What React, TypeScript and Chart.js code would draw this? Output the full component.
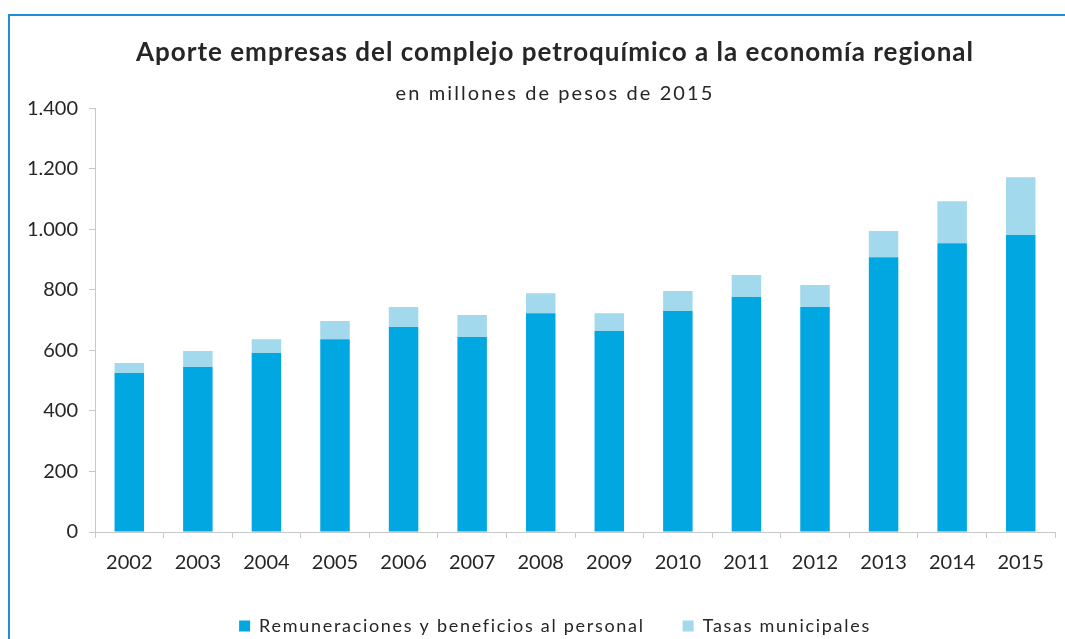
import React, { useEffect, useRef } from "react";
import { Chart, registerables } from "chart.js";

Chart.register(...registerables);

const years = ["2002", "2003", "2004", "2005", "2006", "2007", "2008", "2009", "2010", "2011", "2012", "2013", "2014", "2015"];
const remuneraciones = [525, 545, 591, 637, 677, 644, 723, 664, 730, 776, 743, 908, 954, 981];
const tasas = [33, 53, 46, 60, 66, 73, 66, 59, 66, 73, 73, 86, 139, 191];
const yTickValues = [0, 200, 400, 600, 800, 1000, 1200, 1400];
const yTickLabels = ["0", "200", "400", "600", "800", "1.000", "1.200", "1.400"];

const titleText = "Aporte empresas del complejo petroquímico a la economía regional";
const subtitleText = "en millones de pesos de 2015";
const seriesNames = ["Remuneraciones y beneficios al personal", "Tasas municipales"];

const FONT = "Lato, 'Open Sans', sans-serif";
const TEXT = "#262626";
const AXIS = "#c8c8c8";

function withSpacing(box: any, spacing: string) {
  if (!box) return;
  const ctx = box.ctx as any;
  ["draw", "fit"].forEach((name) => {
    const orig = box[name];
    box[name] = function (...args: any[]) {
      const prev = ctx.letterSpacing;
      ctx.letterSpacing = spacing;
      try {
        return orig.apply(this, args);
      } finally {
        ctx.letterSpacing = prev;
      }
    };
  });
}

export default function App() {
  const ref = useRef<HTMLCanvasElement | null>(null);

  useEffect(() => {
    const canvas = ref.current;
    if (!canvas) return;
    const chart: any = new Chart(canvas, {
      type: "bar",
      data: {
        labels: years,
        datasets: [
          {
            label: seriesNames[0],
            data: remuneraciones,
            backgroundColor: "#00a7e1",
            barPercentage: 0.43,
            categoryPercentage: 1,
          },
          {
            label: seriesNames[1],
            data: tasas,
            backgroundColor: "#a2d9ec",
            barPercentage: 0.43,
            categoryPercentage: 1,
          },
        ],
      },
      options: {
        animation: false,
        responsive: false,
        devicePixelRatio: 1,
        layout: { padding: { left: 0, right: 0, top: 0, bottom: 9 } },
        plugins: {
          title: {
            display: true,
            text: titleText,
            color: TEXT,
            font: { family: FONT, size: 26, weight: "bold", lineHeight: 1.2 },
            padding: { top: 23, bottom: 8 },
          },
          subtitle: {
            display: true,
            text: subtitleText,
            color: TEXT,
            font: { family: FONT, size: 20, weight: "normal", lineHeight: 1.2 },
            padding: { top: 5, bottom: 3 },
          },
          legend: {
            position: "bottom",
            labels: {
              color: TEXT,
              font: { family: FONT, size: 18 },
              boxWidth: 11,
              boxHeight: 11,
              padding: 38,
            },
          },
          tooltip: { enabled: false },
        },
        scales: {
          x: {
            stacked: true,
            grid: {
              display: true,
              drawOnChartArea: false,
              drawTicks: true,
              tickLength: 6,
              color: AXIS,
              offset: true,
            },
            border: { color: AXIS, width: 1 },
            ticks: {
              color: TEXT,
              font: { family: FONT, size: 20 },
              padding: 13,
              maxRotation: 0,
            },
            afterFit: (scale: any) => {
              scale.height = 47;
            },
          },
          y: {
            stacked: true,
            min: 0,
            max: 1400,
            grid: {
              display: true,
              drawOnChartArea: false,
              drawTicks: true,
              tickLength: 6,
              color: AXIS,
            },
            border: { color: AXIS, width: 1 },
            afterBuildTicks: (scale: any) => {
              scale.ticks = yTickValues.map((v) => ({ value: v }));
            },
            ticks: {
              color: TEXT,
              font: { family: FONT, size: 20 },
              padding: 11,
              callback: (value: any) => {
                const i = yTickValues.indexOf(Number(value));
                return i >= 0 ? yTickLabels[i] : String(value);
              },
            },
            afterFit: (scale: any) => {
              scale.width = 87;
            },
          },
          yRight: {
            type: "linear",
            position: "right",
            display: true,
            grid: { display: false },
            border: { display: false },
            ticks: { display: false },
            afterFit: (scale: any) => {
              scale.width = 47;
            },
          },
        },
      } as any,
    });

    withSpacing(chart.titleBlock, "1px");
    const sub = (chart.boxes || []).find(
      (b: any) => b !== chart.titleBlock && b.options && b.options.text === subtitleText
    );
    withSpacing(sub, "2.1px");
    withSpacing(chart.legend, "1.7px");
    chart.update();

    return () => chart.destroy();
  }, []);

  return (
    <div style={{ position: "fixed", left: 0, top: 0, width: 1065, height: 639, overflow: "hidden", background: "#fff" }}>
      <div
        style={{
          position: "absolute",
          left: 8,
          top: 14,
          width: 1100,
          height: 700,
          borderLeft: "2px solid #1e8fd8",
          borderTop: "2px solid #1e8fd8",
          boxSizing: "border-box",
        }}
      />
      <canvas ref={ref} width={1094} height={640} style={{ position: "absolute", left: 8, top: 14, width: 1094, height: 640 }} />
    </div>
  );
}
